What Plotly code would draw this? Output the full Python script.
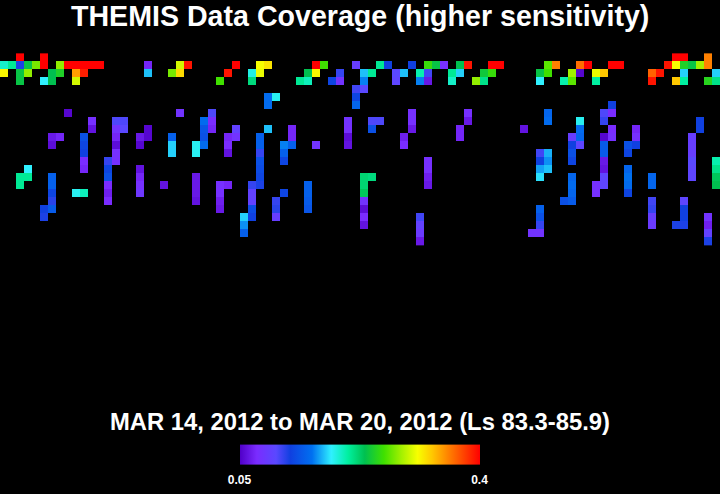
import plotly.graph_objects as go

TITLE = "THEMIS Data Coverage (higher sensitivity)"
SUBTITLE = "MAR 14, 2012 to MAR 20, 2012 (Ls 83.3-85.9)"
VMIN = 0.05
VMAX = 0.4
tick_vals = [0.05, 0.4]
tick_text = ["0.05", "0.4"]
N_COLS = 90
N_ROWS = 24

# Each row: occupied columns and the level (fraction of the colour range)
c00 = [2, 5, 84, 85, 88]
v00 = [1, 1, 1, 1, .87]
c01 = [0, 1, 2, 3, 4, 5, 7, 8, 9, 10, 11, 12, 18, 22, 23, 29, 32, 33, 39, 40, 44, 47, 48, 51, 53, 54, 55, 57, 58, 61, 62, 68, 69, 72, 73, 76, 77, 83, 84, 85, 86, 87, 88]
v01 = [.42, .46, .2, .53, .64, 1, .66, 1, 1, 1, 1, 1, .06, .71, .98, 1, .74, .77, 1, .6, .12, .46, .21, .21, .59, .53, .08, .52, .98, 1, 1, .62, .87, .89, 1, 1, 1, .98, .74, .56, .53, .67, .87]
c02 = [0, 2, 3, 6, 7, 9, 10, 18, 21, 22, 28, 31, 32, 38, 39, 42, 45, 46, 49, 50, 52, 53, 56, 57, 60, 61, 67, 68, 71, 72, 74, 75, 81, 82, 85, 89]
v02 = [.75, .53, .66, .52, .56, .84, .97, .35, .64, .78, .98, .4, .73, .52, .75, .18, .35, .46, .15, .35, .44, .17, .46, .36, .54, .59, .53, .6, .67, .01, .73, .8, .9, .98, .36, .36]
c03 = [2, 5, 6, 9, 27, 31, 37, 38, 41, 42, 45, 49, 52, 53, 56, 59, 60, 67, 70, 71, 74, 81, 84, 85, 88, 89]
v03 = [.53, .38, .52, .71, .6, .48, .46, .43, .22, .09, .31, .14, .31, .04, .42, .66, .47, .38, .44, .62, .45, .98, .8, .45, .57, .47]
c04 = [44, 45]
v04 = [.17, .15]
c05 = [33, 34, 44]
v05 = [.29, .39, .22]
c06 = [33, 44, 76]
v06 = [.29, .28, .21]
c07 = [8, 22, 26, 51, 58, 68, 75, 76]
v07 = [.01, .09, .16, .08, .08, .28, .16, .07]
c08 = [11, 14, 15, 25, 26, 43, 46, 47, 51, 58, 68, 72, 75, 87]
v08 = [.08, .16, .16, .29, .07, .09, .16, .16, .08, .04, .29, .39, .18, .21]
c09 = [11, 14, 15, 18, 25, 26, 29, 33, 36, 43, 46, 51, 57, 65, 72, 76, 79, 87]
v09 = [.03, .09, .15, .01, .25, .06, .13, .35, .06, .08, .24, .04, .06, .03, .29, .07, .06, .21]
c10 = [6, 7, 10, 14, 17, 18, 21, 25, 28, 29, 32, 36, 43, 50, 57, 71, 72, 75, 76, 79, 86]
v10 = [.04, .06, .24, .06, .04, .01, .27, .24, .06, .09, .27, .06, .02, .05, .06, .12, .28, .01, .08, .08, .12]
c11 = [6, 10, 14, 17, 21, 24, 25, 28, 32, 35, 36, 39, 43, 50, 71, 72, 75, 78, 79, 86]
v11 = [.02, .22, .02, .01, .36, .39, .29, .07, .27, .31, .27, .09, .03, .07, .21, .14, .26, .24, .21, .12]
c12 = [10, 14, 21, 24, 28, 32, 35, 67, 68, 71, 75, 78, 86]
v12 = [.21, .08, .36, .39, .03, .18, .27, .17, .34, .24, .26, .22, .12]
c13 = [10, 13, 14, 32, 35, 53, 67, 68, 71, 75, 86, 89]
v13 = [.07, .18, .08, .24, .22, .08, .21, .32, .22, .04, .15, .44]
c14 = [3, 10, 13, 17, 32, 53, 67, 68, 75, 78, 86, 89]
v14 = [.38, .06, .22, .03, .23, .08, .33, .35, .03, .28, .14, .47]
c15 = [2, 3, 6, 13, 17, 24, 32, 45, 46, 53, 67, 71, 75, 78, 81, 86, 89]
v15 = [.46, .46, .27, .24, .06, .04, .22, .49, .48, .05, .37, .28, .14, .3, .28, .14, .51]
c16 = [2, 6, 13, 17, 20, 24, 27, 28, 31, 32, 38, 45, 53, 71, 74, 75, 78, 81, 89]
v16 = [.46, .27, .07, .08, .03, .04, .08, .06, .18, .2, .27, .49, .04, .29, .08, .14, .29, .28, .52]
c17 = [6, 9, 10, 13, 17, 24, 27, 31, 35, 38, 45, 71, 74, 78]
v17 = [.22, .39, .43, .05, .1, .04, .08, .13, .22, .27, .51, .28, .08, .22]
c18 = [6, 13, 24, 27, 31, 34, 38, 45, 70, 71, 81, 85]
v18 = [.19, .07, .03, .05, .13, .18, .26, .09, .24, .26, .17, .14]
c19 = [5, 6, 27, 31, 34, 38, 45, 67, 81, 85]
v19 = [.21, .26, .04, .23, .19, .25, .02, .27, .18, .21]
c20 = [5, 30, 31, 34, 45, 52, 67, 81, 85, 88]
v20 = [.2, .36, .21, .12, .07, .17, .24, .12, .21, .09]
c21 = [30, 45, 52, 67, 81, 84, 85, 88]
v21 = [.32, .03, .13, .18, .11, .2, .2, .05]
c22 = [30, 52, 66, 67, 88]
v22 = [.27, .11, .09, .09, .13]
c23 = [52, 88]
v23 = [.04, .2]

row_cols = [c00, c01, c02, c03, c04, c05, c06, c07, c08, c09, c10, c11, c12, c13, c14, c15, c16, c17, c18, c19, c20, c21, c22, c23]
row_levels = [v00, v01, v02, v03, v04, v05, v06, v07, v08, v09, v10, v11, v12, v13, v14, v15, v16, v17, v18, v19, v20, v21, v22, v23]

z = [[None] * N_COLS for _ in range(N_ROWS)]
for r, (cols, levels) in enumerate(zip(row_cols, row_levels)):
    for c, lv in zip(cols, levels):
        z[r][c] = VMIN + (VMAX - VMIN) * lv

colorscale = [
    [0.00, "#5000c8"], [0.07, "#7a2cff"], [0.15, "#5a48ff"], [0.21, "#1040e0"],
    [0.30, "#0070f0"], [0.38, "#30f0ff"], [0.45, "#00f0a0"], [0.52, "#00c050"],
    [0.60, "#40e000"], [0.67, "#a0f000"], [0.74, "#f8ff00"], [0.80, "#ffc800"],
    [0.87, "#ff8000"], [1.00, "#ff0000"],
]

W, H = 720, 494
fig = go.Figure(go.Heatmap(
    z=z, x=list(range(N_COLS)), y=list(range(N_ROWS)),
    zmin=VMIN, zmax=VMAX, colorscale=colorscale, hoverongaps=False,
    colorbar=dict(
        orientation="h", lenmode="pixels", len=240, thicknessmode="pixels", thickness=20,
        x=359.5 / W, xanchor="center", y=1 - 488 / H, yanchor="bottom", xpad=0, ypad=0,
        outlinewidth=0, ticks="outside", ticklen=6, tickcolor="rgba(0,0,0,0)", tickmode="array",
        tickvals=tick_vals, ticktext=tick_text,
        tickfont=dict(family="Liberation Sans", size=12, color="white", weight="bold"),
    ),
))
fig.update_layout(
    width=W, height=H, margin=dict(l=0, r=0, t=0, b=0),
    paper_bgcolor="black", plot_bgcolor="black", showlegend=False,
    xaxis=dict(visible=False, range=[-0.5, 89.5], domain=[0, 1]),
    yaxis=dict(visible=False, range=[54.58, -7.17], domain=[0, 1]),
    annotations=[
        dict(text=f"<b>{TITLE}</b>", x=360 / W, y=1 - 16 / H, xref="paper", yref="paper",
             xanchor="center", yanchor="middle", showarrow=False,
             font=dict(family="Liberation Sans", size=28.6, color="white")),
        dict(text=f"<b>{SUBTITLE}</b>", x=360 / W, y=1 - 421.5 / H, xref="paper", yref="paper",
             xanchor="center", yanchor="middle", showarrow=False,
             font=dict(family="Liberation Sans", size=23.8, color="white")),
    ],
)
fig.write_html(
    "out.html",
    config={"displayModeBar": False},
    post_script="document.body.style.margin='0';document.body.style.background='black';"
                "document.documentElement.style.overflow='hidden';",
)
